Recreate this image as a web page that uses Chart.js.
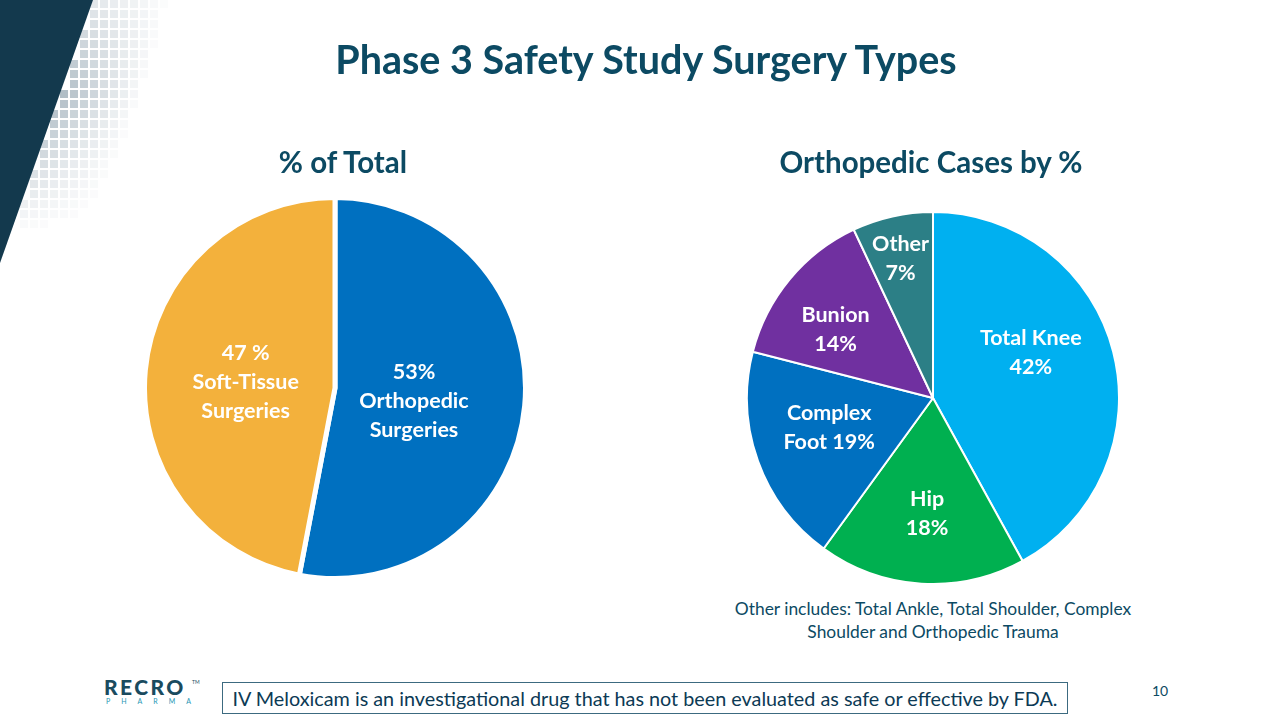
<!DOCTYPE html>
<html>
<head>
<meta charset="utf-8">
<script src="https://cdn.jsdelivr.net/npm/chart.js@4.4.1/dist/chart.umd.min.js"></script>
<style>
  body { margin: 0; width: 1280px; height: 720px; overflow: hidden; background: #fff; font-family: Lato, "Open Sans", sans-serif; }
  .abs { position: absolute; }
  #deco { left: 0; top: 0; }
  #title { left: 0; width: 1292px; top: 36px; text-align: center; font-size: 39.5px; font-weight: 700; color: #0C4A63; line-height: 46px; }
  .sub { top: 143px; text-align: center; font-size: 29.5px; font-weight: 700; color: #0C4A63; line-height: 38px; white-space: nowrap; }
  #sub1 { left: 193px; width: 300px; }
  #sub2 { left: 731px; width: 400px; }
  #note { left: 633px; width: 600px; top: 597px; text-align: center; font-size: 17.4px; color: #0C4A63; line-height: 23px; }
  #box { left: 222px; top: 682px; width: 844px; height: 30px; border: 1.5px solid #3C6A80; text-align: center; font-size: 19.8px; color: #0C3A55; line-height: 30px; }
  #page { left: 1152px; top: 682px; font-size: 14px; color: #0C4A63; }
  #logo1 { left: 104px; top: 674px; font-size: 21px; font-weight: 900; color: #1A4B5F; letter-spacing: 2.4px; }
  #logo2 { left: 106px; top: 697px; font-size: 7px; color: #1F97B5; letter-spacing: 11px; }
  #tm { left: 192px; top: 679px; font-size: 5px; color: #1A4B5F; }
</style>
</head>
<body>
<canvas id="deco" class="abs" width="260" height="280"></canvas>
<div id="title" class="abs">Phase 3 Safety Study Surgery Types</div>
<div id="sub1" class="abs sub">% of Total</div>
<div id="sub2" class="abs sub">Orthopedic Cases by %</div>
<canvas id="pieTotal" class="abs" width="386" height="386" style="left:142px;top:195px"></canvas>
<canvas id="pieOrtho" class="abs" width="374" height="374" style="left:746px;top:211px"></canvas>
<div id="note" class="abs">Other includes: Total Ankle, Total Shoulder, Complex<br>Shoulder and Orthopedic Trauma</div>
<div id="logo1" class="abs">RECRO</div>
<div id="tm" class="abs">TM</div>
<div id="logo2" class="abs">PHARMA</div>
<div id="box" class="abs">IV Meloxicam is an investigational drug that has not been evaluated as safe or effective by FDA.</div>
<div id="page" class="abs">10</div>

<script>
// left pie: share of all surgeries
const totalCategories = ["Orthopedic Surgeries", "Soft-Tissue Surgeries"];
const totalValues = [53, 47];
const totalText = [["53%", "Orthopedic", "Surgeries"], ["47 %", "Soft-Tissue", "Surgeries"]];
const totalColors = ["#0070C0", "#F3B13C"];

// right pie: orthopedic cases
const orthoCategories = ["Total Knee", "Hip", "Complex Foot", "Bunion", "Other"];
const orthoValues = [42, 18, 19, 14, 7];
const orthoText = [["Total Knee", "42%"], ["Hip", "18%"], ["Complex", "Foot 19%"], ["Bunion", "14%"], ["Other", "7%"]];
const orthoColors = ["#00B0F0", "#00B050", "#0070C0", "#7030A0", "#2C7F86"];

// background decoration (top-left corner)
function drawDeco() {
  const ctx = document.getElementById("deco").getContext("2d");
  const edge = y => 92 - 92 * y / 262;
  for (let y = 0; y < 230; y += 10) {
    for (let x = 0; x < 200; x += 10) {
      const cx = x + 4, cy = y + 4;
      const d = cx - edge(cy);
      if (d < 2) continue;
      let a = 0.45 * (1 - d / 85) * (1 - Math.abs(cy - 95) / 140);
      if (a <= 0.02) continue;
      ctx.fillStyle = "rgba(70,100,120," + a.toFixed(3) + ")";
      ctx.fillRect(x, y, 8, 8);
    }
  }
  ctx.fillStyle = "#13394D";
  ctx.beginPath();
  ctx.moveTo(0, 0);
  ctx.lineTo(93, 0);
  ctx.lineTo(0, 263);
  ctx.closePath();
  ctx.fill();
}
drawDeco();

const sliceText = {
  id: "sliceText",
  afterDatasetsDraw(chart, args, opts) {
    const ctx = chart.ctx;
    const arcs = chart.getDatasetMeta(0).data;
    ctx.save();
    ctx.fillStyle = "#fff";
    ctx.font = "700 " + opts.size + "px Lato";
    ctx.textAlign = "center";
    ctx.textBaseline = "middle";
    arcs.forEach((arc, i) => {
      const p = arc.getProps(["x", "y", "startAngle", "endAngle", "outerRadius"], true);
      const ang = p.startAngle + (p.endAngle - p.startAngle) * opts.along[i];
      const r = p.outerRadius * opts.radial[i];
      const x = p.x + Math.cos(ang) * r;
      const y = p.y + Math.sin(ang) * r;
      const lines = opts.text[i];
      lines.forEach((t, k) => {
        ctx.fillText(t, x, y + (k - (lines.length - 1) / 2) * opts.lineHeight);
      });
    });
    ctx.restore();
  }
};

function drawPie(id, labels, values, colors, text, border, along, radial) {
  new Chart(document.getElementById(id), {
    type: "pie",
    data: {
      labels,
      datasets: [{
        data: values,
        backgroundColor: colors,
        borderColor: "#fff",
        borderWidth: border,
        hoverOffset: 0,
        offset: 0
      }]
    },
    options: {
      responsive: false,
      animation: false,
      events: [],
      layout: { padding: 0 },
      plugins: {
        legend: { display: false },
        tooltip: { enabled: false },
        sliceText: { text, along, radial, size: 21.5, lineHeight: 29 }
      }
    },
    plugins: [sliceText]
  });
}

drawPie("pieTotal", totalCategories, totalValues, totalColors, totalText, 5, [0.52, 0.49], [0.42, 0.47]);
drawPie("pieOrtho", orthoCategories, orthoValues, orthoColors, orthoText, 2,
  [0.43, 0.49, 0.56, 0.41, 0.48], [0.58, 0.62, 0.58, 0.64, 0.77]);
</script>
</body>
</html>
